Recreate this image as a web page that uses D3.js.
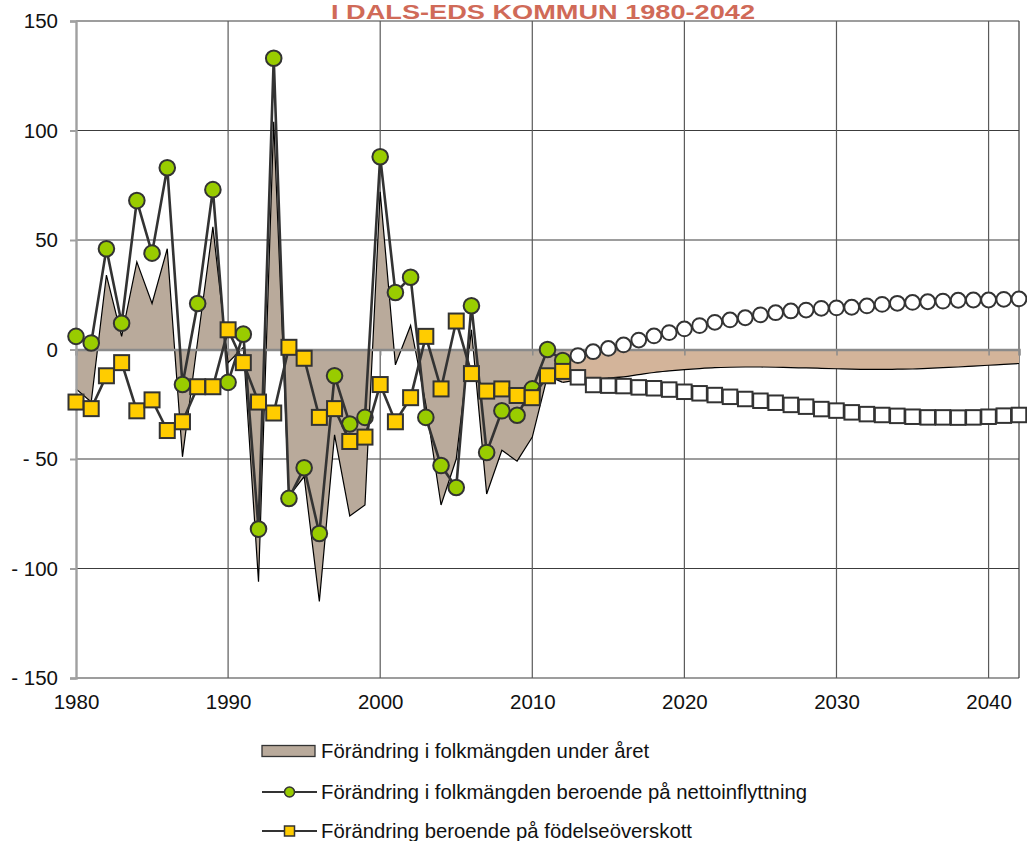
<!DOCTYPE html>
<html><head><meta charset="utf-8">
<script src="https://cdn.jsdelivr.net/npm/d3@7"></script>
<style>
html,body{margin:0;padding:0;background:#fff;}
svg{display:block;}
text{font-family:"Liberation Sans",Arial,sans-serif;}
</style></head>
<body>
<script>
// ---- data ----
const yearsHist = d3.range(1980, 2013);
const netMigration = [6,3,46,12,68,44,83,-16,21,73,-15,7,-82,133,-68,-54,-84,-12,-34,-31,88,26,33,-31,-53,-63,20,-47,-28,-30,-18,0,-5];
const birthSurplus = [-24,-27,-12,-6,-28,-23,-37,-33,-17,-17,9,-6,-24,-29,1,-4,-31,-27,-42,-40,-16,-33,-22,6,-18,13,-11,-19,-18,-21,-22,-12,-10];
const totalChange = [-18,-24,34,6,40,21,46,-49,4,56,-6,1,-106,104,-67,-58,-115,-39,-76,-71,72,-7,11,-25,-71,-50,9,-66,-46,-51,-40,-12,-15];

const yearsProj = d3.range(2013, 2043);
const netMigrationProj = [-2.8,-1.0,0.5,2.1,4.3,6.2,7.7,9.4,10.9,12.4,13.5,14.5,15.8,16.8,17.6,18.0,18.8,19.0,19.3,19.9,20.6,21.1,21.5,21.8,22.1,22.5,22.6,22.6,22.9,23.1];
const birthSurplusProj = [-12.7,-16.2,-16.5,-16.7,-17.3,-17.7,-18.3,-19.3,-20.0,-20.8,-21.6,-22.6,-23.4,-24.3,-25.3,-26.1,-27.2,-27.9,-28.7,-29.5,-29.9,-30.3,-30.7,-31.0,-31.0,-31.1,-31.0,-30.7,-30.2,-29.9];
const yearsProjArea = d3.range(2012, 2043);
const totalChangeProj = [-15,-14,-13.5,-13,-12.5,-11.5,-10.5,-9.8,-9.2,-8.7,-8.3,-8.1,-8.0,-8.0,-8.1,-8.3,-8.4,-8.6,-8.8,-9.0,-9.1,-9.1,-9.0,-8.9,-8.6,-8.3,-8.0,-7.6,-7.2,-6.8,-6.4];

const yTicks = [-150,-100,-50,0,50,100,150];
const yTickLabels = ["- 150","- 100","- 50","0","50","100","150"];
const xTicks = [1980,1990,2000,2010,2020,2030,2040];
const xTickLabels = ["1980","1990","2000","2010","2020","2030","2040"];

const titleText = "I DALS-EDS KOMMUN 1980-2042";
const legendLabels = ["Förändring i folkmängden under året","Förändring i folkmängden beroende på nettoinflyttning","Förändring beroende på födelseöverskott"];

// ---- chart ----
const W = 1027, H = 841;
const svg = d3.select("body").append("svg").attr("width", W).attr("height", H);
const x = d3.scaleLinear().domain([1980, 2042]).range([76, 1019]);
const y = d3.scaleLinear().domain([-150, 150]).range([678, 21]);

// title
svg.append("text").attr("x", 543).attr("y", 18.5).attr("text-anchor","middle")
  .attr("font-size", 20).attr("font-weight","bold").attr("fill","#d06a58")
  .attr("textLength", 424).attr("lengthAdjust","spacingAndGlyphs")
  .style("font-family","'Liberation Sans Narrow','Liberation Sans',Arial,sans-serif")
  .text(titleText);

// gridlines
const grid = svg.append("g");
grid.selectAll("line.h").data(yTicks).join("line").attr("class","h")
  .attr("x1", x(1980)).attr("x2", x(2042)).attr("y1", d=>y(d)).attr("y2", d=>y(d))
  .attr("stroke", "#3c3c3c").attr("stroke-width", 1.2);
grid.selectAll("line.v").data(xTicks.slice(1)).join("line").attr("class","v")
  .attr("x1", d=>x(d)).attr("x2", d=>x(d)).attr("y1", y(150)).attr("y2", y(-150))
  .attr("stroke", "#5a5a5a").attr("stroke-width", 1.2);
grid.append("line").attr("x1", x(2042)).attr("x2", x(2042)).attr("y1", y(150)).attr("y2", y(-150))
  .attr("stroke", "#3c3c3c").attr("stroke-width", 1.2);

// historic area
const histData = yearsHist.map((yr,i)=>({yr, v: totalChange[i]}));
svg.append("path").datum(histData)
  .attr("d", d3.area().x(d=>x(d.yr)).y0(y(0)).y1(d=>y(d.v)))
  .attr("fill", "#b9aa9b");
svg.append("path").datum(histData)
  .attr("d", d3.line().x(d=>x(d.yr)).y(d=>y(d.v)))
  .attr("fill","none").attr("stroke","#000").attr("stroke-width",1.2);

// projected area
const projData = yearsProjArea.map((yr,i)=>({yr, v: totalChangeProj[i]}));
svg.append("path").datum(projData)
  .attr("d", d3.area().curve(d3.curveMonotoneX).x(d=>x(d.yr)).y0(y(0)).y1(d=>y(d.v)))
  .attr("fill", "#d3b49a");
svg.append("path").datum(projData)
  .attr("d", d3.line().curve(d3.curveMonotoneX).x(d=>x(d.yr)).y(d=>y(d.v)))
  .attr("fill","none").attr("stroke","#000").attr("stroke-width",1.2);

// zero axis with ticks
const zeroAxis = d3.axisBottom(x).tickValues(xTicks.concat([2042])).tickSize(6).tickFormat("");
const gz = svg.append("g").attr("transform", `translate(0,${y(0)})`).call(zeroAxis);
gz.select(".domain").attr("stroke","#8a8a8a").attr("stroke-width",2.4);
gz.selectAll(".tick line").attr("stroke","#8a8a8a").attr("stroke-width",1.5);

// left axis
const yAxis = d3.axisLeft(y).tickValues(yTicks).tickSize(6).tickPadding(12)
  .tickFormat(d => yTickLabels[yTicks.indexOf(d)]);
const gy = svg.append("g").attr("transform", `translate(${x(1980)},0)`).call(yAxis);
gy.select(".domain").attr("stroke","#a0a0a0").attr("stroke-width",2.4);
gy.selectAll(".tick line").attr("stroke","#a0a0a0").attr("stroke-width",2);
gy.selectAll(".tick text").attr("font-size",20.5).attr("fill","#111")
  .style("font-family","'Liberation Sans',Arial,sans-serif");

// bottom axis labels
const xAxis = d3.axisBottom(x).tickValues(xTicks).tickSize(0).tickPadding(16)
  .tickFormat(d => xTickLabels[xTicks.indexOf(d)]);
const gx = svg.append("g").attr("transform", `translate(0,${y(-150)})`).call(xAxis);
gx.select(".domain").remove();
gx.selectAll(".tick text").attr("font-size",20.5).attr("fill","#111")
  .style("font-family","'Liberation Sans',Arial,sans-serif");

// series lines & markers
const lineGen = d3.line().x(d=>x(d.yr)).y(d=>y(d.v));
const greenData = yearsHist.map((yr,i)=>({yr, v: netMigration[i]}));
const yellowData = yearsHist.map((yr,i)=>({yr, v: birthSurplus[i]}));
const circProj = yearsProj.map((yr,i)=>({yr, v: netMigrationProj[i]}));
const sqProj = yearsProj.map((yr,i)=>({yr, v: birthSurplusProj[i]}));

svg.append("path").datum(greenData).attr("d", lineGen)
  .attr("fill","none").attr("stroke","#333").attr("stroke-width",2.6);
svg.selectAll("circle.g").data(greenData).join("circle").attr("class","g")
  .attr("cx", d=>x(d.yr)).attr("cy", d=>y(d.v)).attr("r", 7.8)
  .attr("fill","#99cc00").attr("stroke","#333").attr("stroke-width",2);

svg.append("path").datum(yellowData).attr("d", lineGen)
  .attr("fill","none").attr("stroke","#333").attr("stroke-width",2.6);
const S = 15;
svg.selectAll("rect.y").data(yellowData).join("rect").attr("class","y")
  .attr("x", d=>x(d.yr)-S/2).attr("y", d=>y(d.v)-S/2).attr("width",S).attr("height",S)
  .attr("fill","#ffcc00").attr("stroke","#333").attr("stroke-width",2);

svg.selectAll("circle.p").data(circProj).join("circle").attr("class","p")
  .attr("cx", d=>x(d.yr)).attr("cy", d=>y(d.v)).attr("r", 7.4)
  .attr("fill","#fff").attr("stroke","#333").attr("stroke-width",2);
const S2 = 14.5;
svg.selectAll("rect.p").data(sqProj).join("rect").attr("class","p")
  .attr("x", d=>x(d.yr)-S2/2).attr("y", d=>y(d.v)-S2/2).attr("width",S2).attr("height",S2)
  .attr("fill","#fff").attr("stroke","#333").attr("stroke-width",2);

// legend
const lg = svg.append("g");
const rowsY = [751, 792, 831];
lg.append("rect").attr("x",262).attr("y",rowsY[0]-5.5).attr("width",53).attr("height",11)
  .attr("fill","#b9aa9b").attr("stroke","#333").attr("stroke-width",1.3);
[1,2].forEach(i=>{
  lg.append("line").attr("x1",262).attr("x2",317).attr("y1",rowsY[i]).attr("y2",rowsY[i])
    .attr("stroke","#333").attr("stroke-width",2);
});
lg.append("circle").attr("cx",289.5).attr("cy",rowsY[1]).attr("r",5)
  .attr("fill","#99cc00").attr("stroke","#333").attr("stroke-width",1.5);
lg.append("rect").attr("x",284.5).attr("y",rowsY[2]-5).attr("width",10).attr("height",10)
  .attr("fill","#ffcc00").attr("stroke","#333").attr("stroke-width",1.5);
lg.selectAll("text").data(legendLabels).join("text")
  .attr("x",321).attr("y",(d,i)=>rowsY[i]).attr("dy","0.36em")
  .attr("font-size",20.3).attr("fill","#111").text(d=>d);
</script>
</body></html>
